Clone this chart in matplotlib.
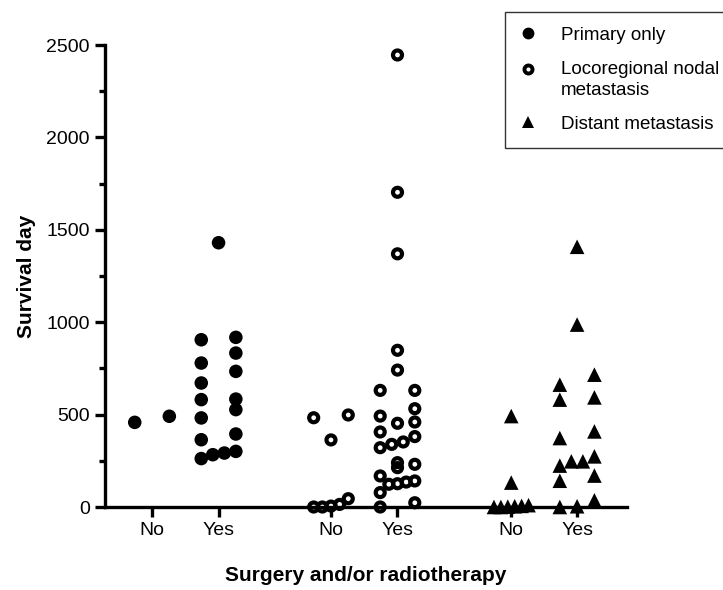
import matplotlib
matplotlib.use('Agg')
import matplotlib.pyplot as plt
from matplotlib.lines import Line2D
from matplotlib.legend_handler import HandlerLine2D
from matplotlib.ticker import MultipleLocator

plt.rcParams['font.family'] = ['Liberation Sans', 'DejaVu Sans']

# ---------------- data ----------------
series_names = ['Primary only', 'Locoregional nodal\nmetastasis', 'Distant metastasis']
tick_labels = ['No', 'Yes', 'No', 'Yes', 'No', 'Yes']

primary_no = [458, 491]
primary_yes = [1430, 918, 905, 833, 779, 734, 671, 584, 581, 527, 482,
               395, 364, 301, 292, 283, 262]
loco_no = [498, 483, 363, 45, 14, 5, 0, 0]
loco_yes = [2446, 1703, 1370, 848, 741, 631, 631, 532, 492, 460, 453, 406,
            381, 352, 339, 321, 240, 231, 213, 168, 141, 135, 126, 123, 78,
            23, 0]
distant_no = [492, 132, 10, 6, 4, 2, 0, 0]
distant_yes = [1408, 987, 716, 662, 593, 581, 409, 373, 274, 247, 247, 224,
               170, 142, 36, 4, 0]

y_label = 'Survival day'
x_label = 'Surgery and/or radiotherapy'

# ---------------- layout ----------------
positions = [0, 1, 2.69, 3.69, 5.4, 6.39]
groups = [primary_no, primary_yes, loco_no, loco_yes, distant_no, distant_yes]
series_of_group = [0, 0, 1, 1, 2, 2]


def row_layout(values, center, row_h=65.0, half_w=0.26):
    """Prism-like scatter: bin values into rows, spread each row evenly."""
    vals = sorted(values)
    rows = []
    for v in vals:
        if rows and v - rows[-1][0] <= row_h:
            rows[-1].append(v)
        else:
            rows.append([v])
    xs, ys = [], []
    for r in rows:
        n = len(r)
        for i, v in enumerate(r):
            off = 0.0 if n == 1 else -half_w + 2 * half_w * i / (n - 1)
            xs.append(center + off)
            ys.append(v)
    return xs, ys


fig = plt.figure(figsize=(7.23, 5.90), dpi=100)
ax = fig.add_axes([105 / 723, 83 / 590, 522 / 723, 462 / 590])

styles = [
    dict(marker='o', s=95, facecolors='black', edgecolors='none', linewidths=0),
    dict(marker='o', s=42, facecolors='none', edgecolors='black', linewidths=3.0),
    dict(marker='^', s=110, facecolors='black', edgecolors='none', linewidths=0),
]

for g, pos, si in zip(groups, positions, series_of_group):
    xs, ys = row_layout(g, pos)
    ax.scatter(xs, ys, clip_on=False, zorder=5, **styles[si])

ax.set_xlim(-0.707, 7.14)
ax.set_ylim(0, 2500)

for s in ['top', 'right']:
    ax.spines[s].set_visible(False)
for s in ['left', 'bottom']:
    ax.spines[s].set_linewidth(2.4)
    ax.spines[s].set_color('black')

ax.set_xticks(positions)
ax.set_xticklabels(tick_labels)
ax.yaxis.set_major_locator(MultipleLocator(500))
ax.yaxis.set_minor_locator(MultipleLocator(250))
ax.tick_params(axis='x', which='major', length=7.5, width=2.4, pad=3.5,
               labelsize=14, colors='black')
ax.tick_params(axis='y', which='major', length=7.5, width=2.4, pad=3.5,
               labelsize=14, colors='black')
ax.tick_params(axis='y', which='minor', length=4.5, width=2.4)

ax.set_ylabel(y_label, fontsize=15, fontweight='bold')
ax.set_xlabel(x_label, fontsize=15, fontweight='bold')
ax.yaxis.set_label_coords(-0.133, 0.5)
ax.xaxis.set_label_coords(0.5, -0.127)


class HandlerFirstLine(HandlerLine2D):
    def __init__(self, shift, **kw):
        super().__init__(**kw)
        self.shift = shift

    def create_artists(self, legend, orig_handle, xdescent, ydescent, width,
                       height, fontsize, trans):
        arts = super().create_artists(legend, orig_handle, xdescent, ydescent,
                                      width, height, fontsize, trans)
        for a in arts:
            a.set_ydata([y + self.shift for y in a.get_ydata()])
        return arts


handles = [
    Line2D([], [], linestyle='none', marker='o', markersize=8.5,
           markerfacecolor='black', markeredgecolor='black', markeredgewidth=0),
    Line2D([], [], linestyle='none', marker='o', markersize=5.8,
           markerfacecolor='none', markeredgecolor='black', markeredgewidth=2.8),
    Line2D([], [], linestyle='none', marker='^', markersize=9,
           markerfacecolor='black', markeredgecolor='black', markeredgewidth=0),
]
leg = fig.legend(handles, series_names, loc='upper left',
                 bbox_to_anchor=(505 / 723, 1 - 11.7 / 590),
                 bbox_transform=fig.transFigure,
                 fontsize=13.5, frameon=True, fancybox=False, shadow=False,
                 borderpad=0.8, handlelength=0.85, handletextpad=1.33,
                 labelspacing=0.9, borderaxespad=0,
                 handler_map={handles[1]: HandlerFirstLine(shift=7.5)})
leg.get_frame().set_edgecolor('black')
leg.get_frame().set_linewidth(1.0)
for t in leg.get_texts():
    t.set_linespacing(1.3)

fig.savefig('out.png', dpi=100)
